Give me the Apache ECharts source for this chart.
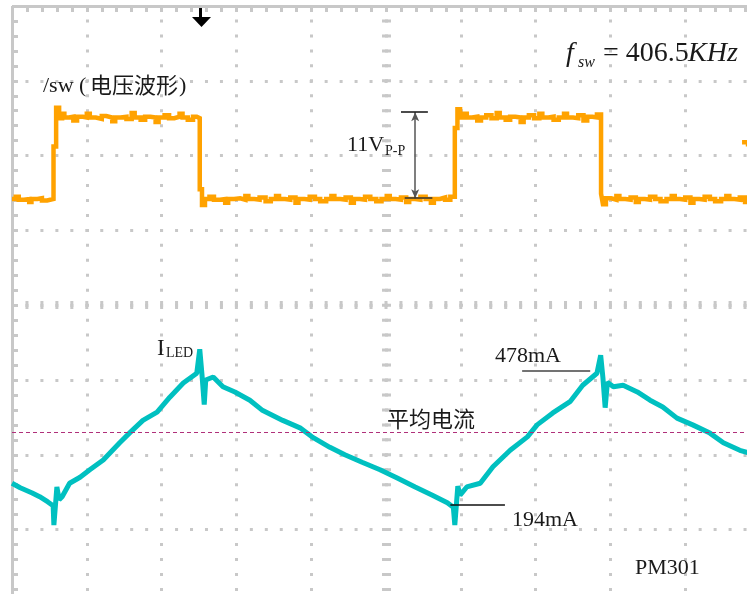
<!DOCTYPE html>
<html><head><meta charset="utf-8">
<script src="https://cdn.jsdelivr.net/npm/echarts@6/dist/echarts.min.js"></script>
<style>html,body{margin:0;padding:0;background:#fff}#c{width:747px;height:594px}</style>
</head><body><div id="c"></div>
<script>
// Units: oscilloscope divisions (x: -5..5, y: -4..4, centre = 0,0)
// Switching-node voltage trace (orange), [div, div]
const swTrace = [
 [-5.00,1.42],[-4.95,1.45],[-4.91,1.41],[-4.84,1.42],[-4.77,1.38],[-4.74,1.42],[-4.66,1.43],[-4.60,1.40],[-4.53,1.42],
 [-4.445,2.12],[-4.41,2.64],[-4.37,2.50],[-4.33,2.56],[-4.30,2.51],[-4.24,2.52],[-4.18,2.47],[-4.13,2.52],[-4.05,2.51],
 [-4.00,2.56],[-3.96,2.51],[-3.88,2.49],[-3.80,2.53],[-3.74,2.51],[-3.66,2.46],[-3.62,2.51],[-3.55,2.52],[-3.47,2.49],
 [-3.40,2.57],[-3.36,2.51],[-3.28,2.48],[-3.22,2.52],[-3.15,2.51],[-3.08,2.45],[-3.04,2.51],[-2.96,2.54],[-2.90,2.50],
 [-2.83,2.52],[-2.76,2.56],[-2.72,2.51],[-2.65,2.48],[-2.58,2.52],[-2.53,2.50],
 [-2.49,1.55],[-2.46,1.34],[-2.42,1.42],[-2.36,1.45],[-2.30,1.41],[-2.22,1.42],[-2.15,1.37],[-2.11,1.42],[-2.03,1.43],
 [-1.95,1.41],[-1.88,1.46],[-1.84,1.42],[-1.76,1.41],[-1.69,1.44],[-1.61,1.39],[-1.54,1.42],[-1.47,1.46],[-1.43,1.42],
 [-1.35,1.41],[-1.28,1.44],[-1.21,1.37],[-1.17,1.42],[-1.09,1.41],[-1.02,1.45],[-0.95,1.42],[-0.88,1.39],[-0.80,1.42],
 [-0.73,1.46],[-0.69,1.42],[-0.61,1.41],[-0.54,1.44],[-0.47,1.37],[-0.43,1.42],[-0.35,1.41],[-0.28,1.45],[-0.21,1.42],
 [-0.13,1.39],[-0.06,1.42],[0.01,1.46],[0.05,1.42],[0.13,1.41],[0.20,1.44],[0.27,1.38],[0.31,1.42],[0.39,1.41],
 [0.46,1.45],[0.53,1.42],[0.60,1.37],[0.64,1.42],[0.72,1.44],[0.79,1.41],[0.86,1.45],
 [0.92,2.37],[0.955,2.62],[0.99,2.51],[1.04,2.56],[1.08,2.51],[1.15,2.52],[1.22,2.47],[1.27,2.51],[1.34,2.54],
 [1.41,2.50],[1.48,2.57],[1.52,2.51],[1.60,2.48],[1.66,2.52],[1.73,2.51],[1.80,2.45],[1.84,2.51],[1.91,2.54],
 [1.98,2.50],[2.05,2.56],[2.09,2.51],[2.17,2.52],[2.24,2.48],[2.31,2.51],[2.38,2.56],[2.42,2.51],[2.50,2.50],
 [2.57,2.54],[2.64,2.47],[2.69,2.52],[2.76,2.51],[2.82,2.55],
 [2.875,1.49],[2.90,1.35],[2.94,1.43],[3.01,1.41],[3.08,1.46],[3.12,1.42],[3.20,1.41],[3.27,1.44],[3.34,1.38],
 [3.38,1.42],[3.46,1.41],[3.53,1.45],[3.60,1.42],[3.67,1.39],[3.75,1.42],[3.82,1.46],[3.86,1.42],[3.93,1.41],
 [4.00,1.44],[4.07,1.37],[4.11,1.42],[4.19,1.41],[4.26,1.45],[4.33,1.42],[4.40,1.39],[4.48,1.42],[4.55,1.46],
 [4.59,1.42],[4.66,1.41],[4.73,1.44],[4.80,1.38],[4.88,1.41],
 [4.76,'-'],[4.76,2.18],[4.84,2.12]
];
// LED current trace (cyan)
const ledX = [-5.00,-4.89,-4.73,-4.63,-4.52,-4.45,-4.44,-4.40,-4.37,-4.33,-4.23,-4.09,-3.96,-3.78,-3.56,-3.42,-3.25,-3.06,-2.89,-2.71,
 -2.53,-2.49,-2.46,-2.43,-2.41,-2.31,-2.18,-2.02,-1.82,-1.66,-1.38,-1.15,-0.99,-0.75,-0.55,-0.32,-0.08,0.15,0.39,0.62,
 0.82,0.90,0.92,0.96,0.99,1.08,1.26,1.43,1.66,1.89,2.02,2.23,2.46,2.63,2.82,2.87,2.90,2.93,2.96,3.04,
 3.17,3.36,3.53,3.70,3.89,4.10,4.33,4.51,4.73,4.87];
const ledY = [-2.38,-2.44,-2.51,-2.56,-2.63,-2.68,-2.94,-2.43,-2.60,-2.56,-2.38,-2.30,-2.20,-2.07,-1.84,-1.70,-1.54,-1.43,-1.23,-1.04,
 -0.91,-0.59,-0.93,-1.33,-1.00,-0.96,-1.09,-1.16,-1.27,-1.40,-1.54,-1.64,-1.76,-1.90,-2.00,-2.10,-2.20,-2.31,-2.43,-2.54,
 -2.64,-2.70,-2.94,-2.42,-2.54,-2.43,-2.38,-2.16,-1.94,-1.76,-1.60,-1.44,-1.29,-1.07,-0.91,-0.67,-0.97,-1.37,-1.03,-1.09,
 -1.07,-1.16,-1.27,-1.36,-1.51,-1.60,-1.71,-1.84,-1.94,-1.98];
// average current level
const avgLevel = -1.70;
// annotation markers (div)
const ppMarker = {x:0.39, top:2.58, bottom:1.43, topBar:[0.20,0.56], bottomBar:[0.25,0.62]};
const peakMarker = {y:-0.87, x:[1.82,2.73]};
const valleyMarker = {y:-2.67, x:[0.86,1.59]};

const GRID_C = '#c8c8c8';
const dotStyle = {color:GRID_C, width:3, type:[3,11.96], dashOffset:1.5, cap:'butt'};
const tickStyle = {color:GRID_C, width:3, cap:'butt'};

const chart = echarts.init(document.getElementById('c'));
const serif = '"Liberation Serif","Times New Roman",serif';
const cjk = '"Noto Sans CJK SC",sans-serif';
const TXT = '#1a1a1a';
function t(text, x, y, font){
  return {type:'text', silent:true, z:100, style:{text:text, x:x, y:y, font:font, fill:TXT, textAlign:'left', textVerticalAlign:'middle'}};
}
chart.setOption({
  animation:false,
  backgroundColor:'#ffffff',
  grid:{left:12, top:6, width:748, height:598.4, containLabel:false, outerBoundsMode:'none'},
  xAxis:[
    {type:'value', min:-5, max:5, interval:1, position:'top',
     axisLine:{show:true, onZero:false, lineStyle:{color:GRID_C, width:3, cap:'butt'}},
     axisTick:{show:true, inside:true, length:6, lineStyle:tickStyle},
     minorTick:{show:true, splitNumber:5, length:6, lineStyle:tickStyle},
     axisLabel:{show:false}, splitLine:{show:true, lineStyle:dotStyle}, minorSplitLine:{show:false}},
    {type:'value', min:-5, max:5, interval:1, position:'bottom',
     axisLine:{show:true, onZero:true, onZeroAxisIndex:0, lineStyle:{color:GRID_C, width:8, type:[3,11.96], dashOffset:1.5, cap:'butt'}},
     axisTick:{show:false}, axisLabel:{show:false}, splitLine:{show:false}}
  ],
  yAxis:[
    {type:'value', min:-4, max:4, interval:1, position:'left',
     axisLine:{show:true, onZero:false, lineStyle:{color:GRID_C, width:3, cap:'butt'}},
     axisTick:{show:true, inside:true, length:6, lineStyle:tickStyle},
     minorTick:{show:true, splitNumber:5, length:6, lineStyle:tickStyle},
     axisLabel:{show:false}, splitLine:{show:true, lineStyle:dotStyle}, minorSplitLine:{show:false}},
    {type:'value', min:-4, max:4, interval:1, position:'right',
     axisLine:{show:true, onZero:true, onZeroAxisIndex:0, lineStyle:{color:GRID_C, width:9, type:[3,11.96], dashOffset:1.5, cap:'butt'}},
     axisTick:{show:false}, axisLabel:{show:false}, splitLine:{show:false}}
  ],
  series:[
    {type:'line', name:'Vsw', xAxisIndex:0, yAxisIndex:0, step:'end', symbol:'none', silent:true, z:3,
     lineStyle:{color:'#ffa200', width:4.5, join:'miter'}, data:swTrace,
     markLine:{silent:true, symbol:['none','none'], label:{show:false}, animation:false, emphasis:{disabled:true},
       data:[
        [{coord:[ppMarker.x, ppMarker.top], symbol:'arrow', symbolSize:[6,9], lineStyle:{color:'#555555', width:1.5, type:'solid'}},
         {coord:[ppMarker.x, ppMarker.bottom], symbol:'arrow', symbolSize:[6,9]}],
        [{coord:[ppMarker.topBar[0], ppMarker.top], lineStyle:{color:'#111111', width:1.5, type:'solid'}}, {coord:[ppMarker.topBar[1], ppMarker.top]}],
        [{coord:[ppMarker.bottomBar[0], ppMarker.bottom], lineStyle:{color:'#333333', width:1.5, type:'solid'}}, {coord:[ppMarker.bottomBar[1], ppMarker.bottom]}],
        [{coord:[peakMarker.x[0], peakMarker.y], lineStyle:{color:'#444444', width:1.5, type:'solid'}}, {coord:[peakMarker.x[1], peakMarker.y]}],
        [{coord:[valleyMarker.x[0], valleyMarker.y], lineStyle:{color:'#111111', width:1.5, type:'solid'}}, {coord:[valleyMarker.x[1], valleyMarker.y]}]
       ]}},
    {type:'line', name:'ILED', xAxisIndex:0, yAxisIndex:0, symbol:'none', silent:true, z:2,
     lineStyle:{color:'#00c0c0', width:5}, data:ledX.map((x,i)=>[x, ledY[i]]),
     markLine:{silent:true, symbol:['none','none'], label:{show:false}, animation:false, emphasis:{disabled:true},
       lineStyle:{color:'#b0307a', width:1, type:[4,3]}, data:[{yAxis:avgLevel}]}}
  ],
  graphic:[
    t('/sw (', 43, 86, '22px '+serif),
    t('电压波形', 90, 85, '22px '+cjk),
    t(')', 179, 86, '22px '+serif),
    t('11V', 347, 145, '22px '+serif),
    t('P-P', 385, 151, '14px '+serif),
    t('f', 566, 54, 'italic 28px '+serif),
    t('sw', 578, 63, 'italic 16px '+serif),
    t('= 406.5', 603, 54, '28px '+serif),
    t('KHz', 688, 54, 'italic 28px '+serif),
    t('I', 157, 349, '23px '+serif),
    t('LED', 166, 353, '14px '+serif),
    t('478mA', 495, 356, '22px '+serif),
    t('194mA', 512, 520, '22px '+serif),
    t('平均电流', 387, 419, '22px '+cjk),
    t('PM301', 635, 568, '22px '+serif),
    {type:'group', silent:true, z:100, children:[
      {type:'rect', shape:{x:199, y:8, width:3, height:12}, style:{fill:'#000'}},
      {type:'polygon', shape:{points:[[192,17],[211,17],[201.5,27]]}, style:{fill:'#000'}}
    ]}
  ]
});
</script></body></html>
